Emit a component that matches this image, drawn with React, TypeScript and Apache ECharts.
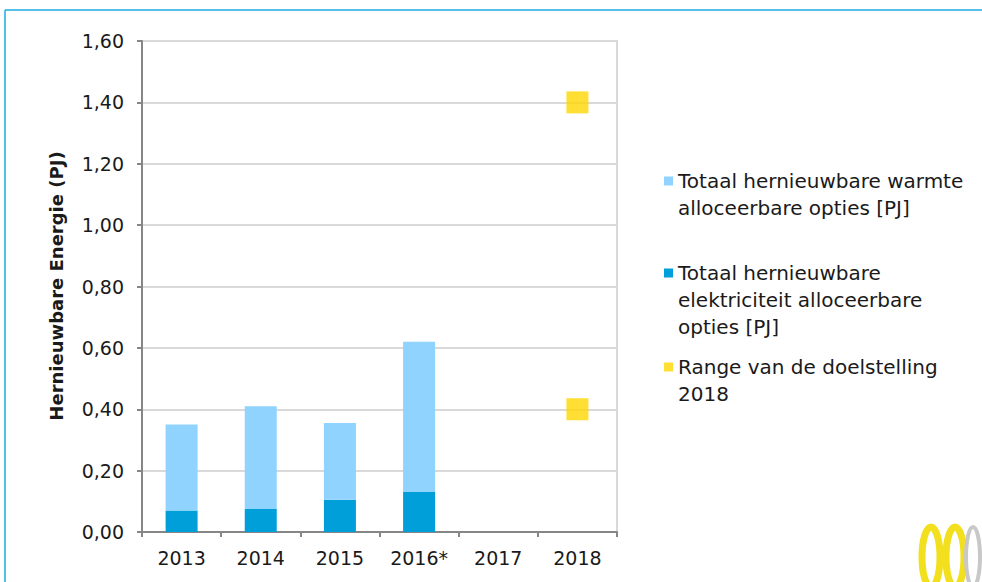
import React, { useEffect, useRef } from "react";
import * as echarts from "echarts";

const categories = ["2013", "2014", "2015", "2016*", "2017", "2018"];
const elektriciteit = [0.07, 0.075, 0.105, 0.13, null, null];
const warmte = [0.28, 0.335, 0.25, 0.49, null, null];
const doelstelling = [
  ["2018", 1.4],
  ["2018", 0.4],
];
const yTicks = { min: 0, max: 1.6, interval: 0.2 };

const nameWarmte = "Totaal hernieuwbare warmte\nalloceerbare opties [PJ]";
const nameElek = "Totaal hernieuwbare\nelektriciteit alloceerbare\nopties [PJ]";
const nameRange = "Range van de doelstelling\n2018";

const FONT = "DejaVu Sans";
const LH = 27;

export default function App() {
  const ref = useRef<HTMLDivElement>(null);
  useEffect(() => {
    document.body.style.margin = "0";
    const chart = echarts.init(ref.current!, undefined, { renderer: "svg" });
    const legendBase = {
      orient: "vertical",
      left: 664,
      padding: 0,
      itemWidth: 9,
      itemHeight: 9,
      itemGap: 0,
      icon: "rect",
      selectedMode: false,
      textStyle: {
        fontFamily: FONT,
        fontSize: 20,
        color: "#1a1a1a",
        lineHeight: LH,
      },
    };
    const mk = (name: string, iconY: number) => {
      const n = name.split("\n").length;
      return {
        ...legendBase,
        top: iconY - ((2 * n - 1) * LH) / 2,
        data: [name],
        formatter: (s: string) => "\n".repeat(n - 1) + s,
      };
    };
    chart.setOption({
      animation: false,
      textStyle: { fontFamily: FONT },
      grid: {
        left: 142,
        right: 365,
        top: 41,
        bottom: 50,
        show: true,
        borderColor: "#D9D9D9",
        borderWidth: 2,
      },
      legend: [mk(nameWarmte, 181), mk(nameElek, 273), mk(nameRange, 367)],
      xAxis: {
        type: "category",
        data: categories,
        axisLine: { lineStyle: { color: "#868686", width: 2 } },
        axisTick: { show: true, length: 5, lineStyle: { color: "#868686", width: 2 } },
        axisLabel: { fontSize: 19, color: "#1a1a1a", margin: 16, fontFamily: FONT },
      },
      yAxis: {
        type: "value",
        min: yTicks.min,
        max: yTicks.max,
        interval: yTicks.interval,
        axisLine: { show: true, lineStyle: { color: "#868686", width: 2 } },
        axisTick: { show: true, length: 5, lineStyle: { color: "#868686", width: 2 } },
        axisLabel: {
          fontSize: 19,
          color: "#1a1a1a",
          margin: 18,
          fontFamily: FONT,
          formatter: (v: number) => v.toFixed(2).replace(".", ","),
        },
        splitLine: { lineStyle: { color: "#D9D9D9", width: 2 } },
      },
      series: [
        {
          name: nameElek,
          type: "bar",
          stack: "total",
          data: elektriciteit,
          barWidth: 32,
          itemStyle: { color: "#009FDA" },
        },
        {
          name: nameWarmte,
          type: "bar",
          stack: "total",
          data: warmte,
          barWidth: 32,
          itemStyle: { color: "#8FD3FE" },
        },
        {
          name: nameRange,
          type: "scatter",
          data: doelstelling,
          symbol: "rect",
          symbolSize: 22,
          itemStyle: { color: "#FFD700" },
        },
      ],
      graphic: [
        {
          type: "line",
          shape: { x1: 5, y1: 10, x2: 982, y2: 10 },
          style: { stroke: "#1AACE0", lineWidth: 1.5 },
          silent: true,
        },
        {
          type: "line",
          shape: { x1: 5, y1: 10, x2: 5, y2: 582 },
          style: { stroke: "#1AACE0", lineWidth: 1.5 },
          silent: true,
        },
        {
          type: "text",
          x: 56,
          y: 286,
          rotation: Math.PI / 2,
          style: {
            text: "Hernieuwbare Energie (PJ)",
            fontFamily: FONT,
            fontWeight: "bold",
            fontSize: 18,
            fill: "#1a1a1a",
            align: "center",
            verticalAlign: "middle",
          },
        },
        {
          type: "ellipse",
          shape: { cx: 931, cy: 557, rx: 9, ry: 30 },
          style: { fill: "none", stroke: "#F2E01F", lineWidth: 7 },
          silent: true,
        },
        {
          type: "ellipse",
          shape: { cx: 955, cy: 557, rx: 9, ry: 30 },
          style: { fill: "none", stroke: "#F2E01F", lineWidth: 7 },
          silent: true,
        },
        {
          type: "ellipse",
          shape: { cx: 973, cy: 557, rx: 7, ry: 30 },
          style: { fill: "none", stroke: "#C8C8C8", lineWidth: 4 },
          silent: true,
        },
      ],
    });
    return () => chart.dispose();
  }, []);
  return <div ref={ref} style={{ width: 982, height: 582 }} />;
}
